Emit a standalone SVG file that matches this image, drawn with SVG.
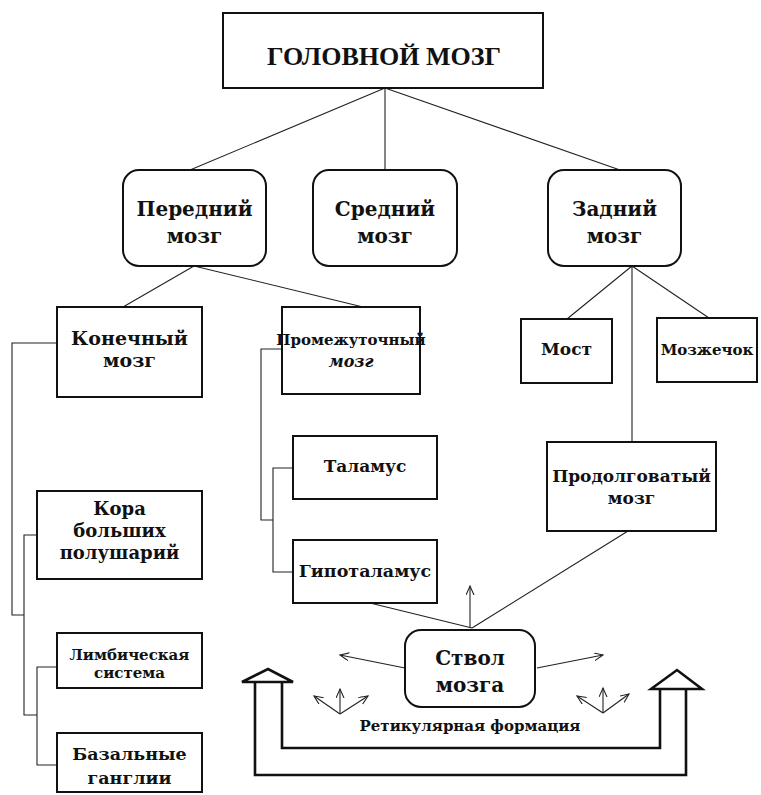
<svg xmlns="http://www.w3.org/2000/svg" width="761" height="795" viewBox="0 0 761 795">
<defs>
<style>
.box{fill:#fff;stroke:#111;stroke-width:2}
.ln{fill:none;stroke:#222;stroke-width:1.1}
.big{fill:none;stroke:#111;stroke-width:2.6;stroke-linejoin:miter}
.head{fill:#fff;stroke:#111;stroke-width:2.6;stroke-linejoin:miter}
.t{font-family:"DejaVu Serif","Liberation Serif",serif;font-weight:bold;fill:#111;text-anchor:middle}
.m{font-size:20px}
.s{font-size:17px}
.i{font-style:italic}
</style>
<marker id="ah" markerUnits="userSpaceOnUse" markerWidth="12" markerHeight="10" refX="9" refY="4" orient="auto">
<path d="M0,0 L9,4 L0,8" fill="none" stroke="#222" stroke-width="1.1"/>
</marker>
</defs>
<rect width="761" height="795" fill="#fff"/>

<g id="connectors">
<path class="ln" d="M385,88 L190,170 M385,88 L385,170 M385,88 L620,170"/>
<path class="ln" d="M194,266 L123,307 M194,266 L363,307"/>
<path class="ln" d="M632,266 L567,319 M632,266 L709,318 M632,266 L632,442"/>
<path class="ln" d="M57,343 L12,343 L12,615 L24,615 M37,535 L24,535 L24,715 L37,715 M57,667 L37,667 L37,765 L57,765"/>
<path class="ln" d="M282,349 L261,349 L261,520 L273,520 M293,468 L273,468 L273,572 L293,572"/>
<path class="ln" d="M370,603 L472,628 M628,531 L472,628"/>
<path class="ln" d="M470,628 L470,586" marker-end="url(#ah)"/>
<path class="ln" d="M405,668 L340,655" marker-end="url(#ah)"/>
<path class="ln" d="M537,668 L603,655" marker-end="url(#ah)"/>
<path class="ln" d="M340,714 L314,696" marker-end="url(#ah)"/>
<path class="ln" d="M340,714 L340,689" marker-end="url(#ah)"/>
<path class="ln" d="M340,714 L368,696" marker-end="url(#ah)"/>
<path class="ln" d="M603,713 L577,696" marker-end="url(#ah)"/>
<path class="ln" d="M603,713 L603,688" marker-end="url(#ah)"/>
<path class="ln" d="M603,713 L629,694" marker-end="url(#ah)"/>
</g>

<g id="reticular-loop">
<path class="big" d="M255,682 L255,775 L686,775 L686,689"/>
<path class="big" d="M282,682 L282,748 L660,748 L660,689"/>
<polygon class="head" points="242,682 268,669 293,682"/>
<polygon class="head" points="651,689 677,670 702,689"/>
<text class="t" x="470" y="731" style="font-size:15px">Ретикулярная формация</text>
</g>

<g id="golovnoy">
<rect class="box" x="223" y="13" width="320" height="75"/>
<text class="t" x="384" y="65" style="font-size:26px;font-family:'Liberation Serif',serif">ГОЛОВНОЙ МОЗГ</text>
</g>

<g id="peredniy">
<rect class="box" x="123" y="170" width="143" height="96" rx="16"/>
<text class="t m" x="194.5" y="216">Передний</text>
<text class="t m" x="194.5" y="243">мозг</text>
</g>
<g id="sredniy">
<rect class="box" x="313" y="170" width="144" height="96" rx="16"/>
<text class="t m" x="385" y="216">Средний</text>
<text class="t m" x="385" y="243">мозг</text>
</g>
<g id="zadniy">
<rect class="box" x="548" y="170" width="133" height="96" rx="16"/>
<text class="t m" x="614.5" y="216">Задний</text>
<text class="t m" x="614.5" y="243">мозг</text>
</g>

<g id="konechny">
<rect class="box" x="57" y="307" width="145" height="90"/>
<text class="t" x="129.5" y="345" style="font-size:19px">Конечный</text>
<text class="t" x="129.5" y="367" style="font-size:19px">мозг</text>
</g>
<g id="promezhutochny">
<rect class="box" x="282" y="307" width="138" height="87"/>
<text class="t" x="351" y="345" style="font-size:15px">Промежуточный</text>
<text class="t i" x="351" y="367" style="font-size:16px">мозг</text>
</g>
<g id="most">
<rect class="box" x="521" y="319" width="91" height="64"/>
<text class="t s" x="566.5" y="355">Мост</text>
</g>
<g id="mozzhechok">
<rect class="box" x="657" y="318" width="100" height="64"/>
<text class="t" x="707" y="355" style="font-size:15px">Мозжечок</text>
</g>
<g id="prodolgovaty">
<rect class="box" x="547" y="442" width="169" height="89"/>
<text class="t s" x="631.5" y="482">Продолговатый</text>
<text class="t s" x="631.5" y="504">мозг</text>
</g>
<g id="talamus">
<rect class="box" x="293" y="436" width="144" height="63"/>
<text class="t s" x="365" y="472">Таламус</text>
</g>
<g id="gipotalamus">
<rect class="box" x="293" y="540" width="144" height="63"/>
<text class="t" x="365" y="577" style="font-size:17.5px">Гипоталамус</text>
</g>
<g id="kora">
<rect class="box" x="37" y="491" width="165" height="88"/>
<text class="t" x="119.5" y="515" style="font-size:18px">Кора</text>
<text class="t" x="119.5" y="537" style="font-size:18px">больших</text>
<text class="t" x="119.5" y="559" style="font-size:18px">полушарий</text>
</g>
<g id="limbicheskaya">
<rect class="box" x="57" y="633" width="145" height="55"/>
<text class="t" x="129.5" y="660" style="font-size:15px">Лимбическая</text>
<text class="t" x="129.5" y="678" style="font-size:15px">система</text>
</g>
<g id="bazalnye">
<rect class="box" x="57" y="733" width="145" height="59"/>
<text class="t" x="129.5" y="760" style="font-size:17.5px">Базальные</text>
<text class="t" x="129.5" y="784" style="font-size:17.5px">ганглии</text>
</g>
<g id="stvol">
<rect class="box" x="405" y="630" width="130" height="77" rx="16"/>
<text class="t m" x="470" y="665">Ствол</text>
<text class="t m" x="470" y="692">мозга</text>
</g>
</svg>
